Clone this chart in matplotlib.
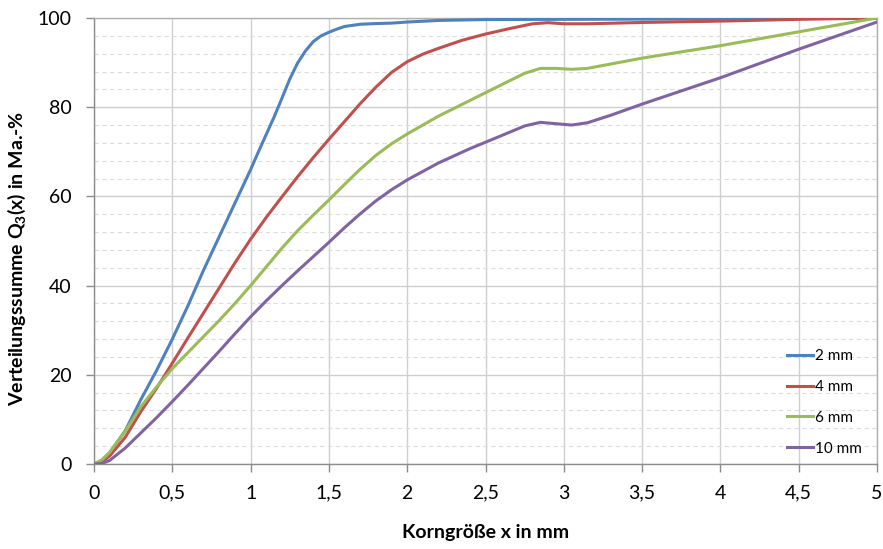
import matplotlib
matplotlib.use("Agg")
import matplotlib.pyplot as plt
from matplotlib.ticker import MultipleLocator, FuncFormatter

# ---- data ----
x_2mm = [0, 0.05, 0.1, 0.2, 0.3, 0.4, 0.5, 0.6, 0.7, 0.8, 0.9, 1.0, 1.05, 1.1, 1.15, 1.2, 1.25,
         1.3, 1.35, 1.4, 1.45, 1.5, 1.55, 1.6, 1.7, 1.8, 1.9, 2.0, 2.2, 2.5, 3.0, 3.5, 4.0, 4.5, 5.0]
y_2mm = [0, 0.8, 2.5, 7.5, 14.5, 21, 28, 35.5, 43.5, 51, 58.5, 66, 70.0, 73.9, 77.8, 82.0, 86.3,
         89.9, 92.6, 94.7, 96.0, 96.8, 97.5, 98.1, 98.6, 98.75, 98.85, 99.1, 99.45, 99.65, 99.7, 99.75, 99.8, 99.9, 100]

x_4mm = [0, 0.05, 0.1, 0.2, 0.3, 0.4, 0.5, 0.6, 0.7, 0.8, 0.9, 1.0, 1.1, 1.2, 1.3, 1.4, 1.5, 1.6,
         1.7, 1.8, 1.9, 2.0, 2.1, 2.2, 2.35, 2.5, 2.65, 2.8, 2.9, 3.0, 3.15, 3.5, 4.0, 4.5, 5.0]
y_4mm = [0, 0.5, 1.8, 6.0, 11.8, 17, 22.6, 28.3, 33.9, 39.5, 45.1, 50.4, 55.3, 59.9, 64.4, 68.7, 72.8, 76.8,
         80.8, 84.5, 87.8, 90.2, 91.9, 93.2, 95.0, 96.4, 97.6, 98.7, 98.95, 98.7, 98.7, 99.0, 99.3, 99.7, 100]

x_6mm = [0, 0.05, 0.1, 0.2, 0.3, 0.4, 0.5, 0.6, 0.7, 0.8, 0.9, 1.0, 1.1, 1.2, 1.3, 1.4, 1.5, 1.6,
         1.7, 1.8, 1.9, 2.0, 2.2, 2.4, 2.6, 2.75, 2.85, 2.95, 3.05, 3.15, 3.5, 4.0, 4.5, 5.0]
y_6mm = [0, 0.9, 2.6, 7.4, 12.9, 17.3, 21.4, 25.0, 28.6, 32.2, 36.0, 40, 44.2, 48.4, 52.3, 55.8, 59.2, 62.7,
         66.1, 69.2, 71.8, 74.0, 78.0, 81.5, 85.0, 87.6, 88.7, 88.7, 88.5, 88.7, 91.0, 93.8, 96.9, 100]

x_10mm = [0, 0.05, 0.1, 0.2, 0.3, 0.4, 0.5, 0.6, 0.7, 0.8, 0.9, 1.0, 1.1, 1.2, 1.3, 1.4, 1.5, 1.6,
          1.7, 1.8, 1.9, 2.0, 2.2, 2.4, 2.6, 2.75, 2.85, 2.95, 3.05, 3.15, 3.3, 3.5, 4.0, 4.5, 5.0]
y_10mm = [0, 0.1, 0.8, 3.6, 7.0, 10.4, 14, 17.7, 21.5, 25.3, 29.2, 33, 36.6, 40.0, 43.3, 46.5, 49.7, 53.0,
          56.1, 59.0, 61.5, 63.7, 67.5, 70.7, 73.6, 75.8, 76.6, 76.3, 76.0, 76.5, 78.2, 80.7, 86.6, 93.0, 99.1]

labels = ["2 mm", "4 mm", "6 mm", "10 mm"]
colors = ["#4F81BD", "#C0504D", "#9BBB59", "#8064A2"]

plt.rcParams['font.family'] = ['Lato', 'DejaVu Sans']
plt.rcParams['mathtext.fontset'] = 'custom'
plt.rcParams['mathtext.bf'] = 'Lato:bold'
plt.rcParams['mathtext.rm'] = 'Lato:bold'
plt.rcParams['mathtext.default'] = 'bf'

fig = plt.figure(figsize=(8.83, 5.49), dpi=100)
ax = fig.add_axes([94/883, 85/549, 783/883, 446/549])

series = [(x_2mm, y_2mm), (x_4mm, y_4mm), (x_6mm, y_6mm), (x_10mm, y_10mm)]
for (xs, ys), lab, c in zip(series, labels, colors):
    ax.plot(xs, ys, color=c, lw=2.2, label=lab, solid_joinstyle='round', zorder=3)

ax.set_xlim(0, 5)
ax.set_ylim(0, 100)
ax.xaxis.set_major_locator(MultipleLocator(0.5))
ax.yaxis.set_major_locator(MultipleLocator(20))
ax.yaxis.set_minor_locator(MultipleLocator(4))
ax.xaxis.set_major_formatter(FuncFormatter(lambda v, p: ("%g" % v).replace('.', ',')))

ax.grid(True, which='major', axis='both', color='#cfcfcf', lw=1.0, zorder=0)
ax.grid(True, which='minor', axis='y', color='#dcdcdc', lw=0.8, linestyle=(0, (4, 3)), zorder=0)
ax.set_axisbelow(True)

for s in ['left', 'bottom']:
    ax.spines[s].set_color('#8c8c8c')
    ax.spines[s].set_linewidth(1.0)
for s in ['top', 'right']:
    ax.spines[s].set_color('#b0b0b0')
    ax.spines[s].set_linewidth(1.0)

ax.tick_params(axis='both', which='major', direction='out', length=6, width=1, color='#8c8c8c',
               labelsize=14, labelcolor='black')
ax.tick_params(axis='y', which='minor', length=0)
ax.tick_params(axis='x', pad=9)
ax.tick_params(axis='y', pad=10)

ax.set_xlabel("Korngröße x in mm", fontsize=14, fontweight='bold', labelpad=16)
ax.set_ylabel(r"Verteilungssumme Q$_3$(x) in Ma.-%", fontsize=14, fontweight='bold')
ax.yaxis.set_label_coords(-0.084, 0.46)

leg = ax.legend(loc='lower right', bbox_to_anchor=(0.994, -0.005), frameon=False, fontsize=11,
                handlelength=1.7, handletextpad=0.1, labelspacing=1.1, borderaxespad=0.3)

fig.savefig("out.png", dpi=100)
